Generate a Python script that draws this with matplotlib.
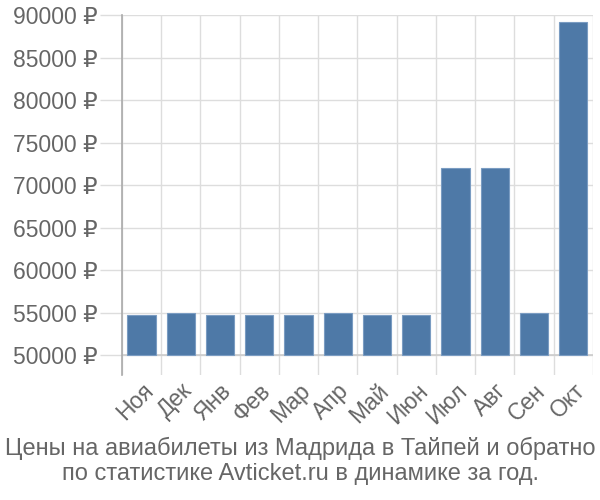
import numpy as np
import matplotlib.pyplot as plt

plt.rcParams['font.family'] = ['Liberation Sans', 'DejaVu Sans']

months = ["Ноя", "Дек", "Янв", "Фев", "Мар", "Апр", "Май", "Июн", "Июл", "Авг", "Сен", "Окт"]
prices = [54700, 55000, 54700, 54700, 54700, 55000, 54700, 54700, 72000, 72000, 55000, 89200]
yticks = [50000, 55000, 60000, 65000, 70000, 75000, 80000, 85000, 90000]
base = 50000

text_color = "#666666"
grid_color = "#dddddd"

fig = plt.figure(figsize=(6, 5), dpi=100)
ax = fig.add_axes([0.203, 0.25, 0.785, 0.72])

x = np.arange(len(months))
heights = [p - base for p in prices]
ax.bar(x, heights, bottom=base, width=0.72, color="#4e79a7", edgecolor="#7a9cc2",
       linewidth=0.8, zorder=3)

ax.set_xlim(-0.5, len(months) - 0.5)
ax.set_ylim(47650, 90000)

ax.set_yticks(yticks)
ax.set_yticklabels([f"{v} ₽" for v in yticks])
ax.set_xticks(x)
ax.set_xticklabels(months, rotation=45, ha="right", rotation_mode="anchor")

ax.set_xticks(np.arange(-0.5, len(months)), minor=True)
ax.grid(True, which="minor", axis="x", color=grid_color, linewidth=1, zorder=0)
ax.grid(True, which="major", axis="y", color=grid_color, linewidth=1, zorder=0)
ax.axhline(base, color="#cccccc", linewidth=1.2, zorder=2)

ax.tick_params(axis="y", length=16, color=grid_color, width=1, pad=1.5,
               labelsize=16.5, labelcolor=text_color)
ax.tick_params(axis="x", which="major", length=0, pad=3, labelsize=16.5, labelcolor=text_color)
ax.tick_params(axis="x", which="minor", length=0)

for side in ["top", "right", "bottom"]:
    ax.spines[side].set_visible(False)
ax.spines["left"].set_color("#aaaaaa")
ax.spines["left"].set_linewidth(1.2)

fig.text(0.5, 0.078, "Цены на авиабилеты из Мадрида в Тайпей и обратно\nпо статистике Avticket.ru в динамике за год.",
         ha="center", va="center", fontsize=17, color=text_color, linespacing=1.2)

fig.savefig("out.png")
